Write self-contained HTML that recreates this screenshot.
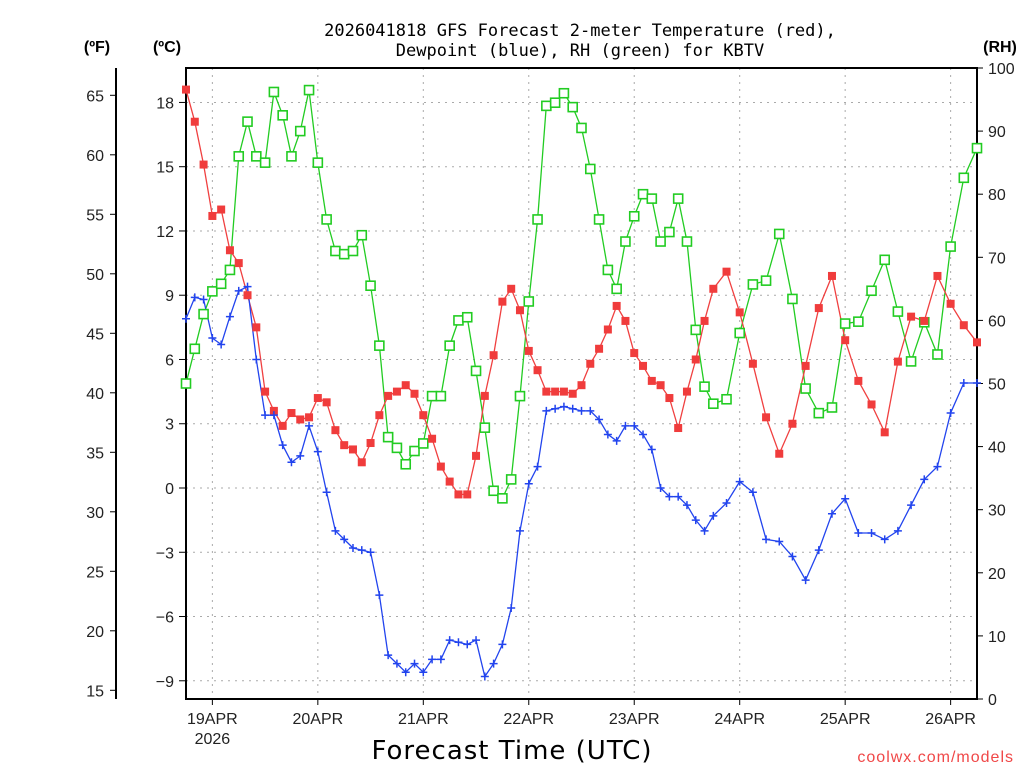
<!DOCTYPE html>
<html><head><meta charset="utf-8"><style>
body{margin:0;background:#fff;width:1024px;height:768px;overflow:hidden}
svg{display:block;font-family:"Liberation Sans",sans-serif}
</style></head><body>
<svg id="chart" width="1024" height="768" viewBox="0 0 1024 768">
<g id="grid"></g>
<g id="axes"></g>
<g id="series"></g>
<text x="580" y="36" font-size="17" text-anchor="middle" font-family="DejaVu Sans Mono, monospace">2026041818 GFS Forecast 2-meter Temperature (red),</text>
<text x="580" y="56" font-size="17" text-anchor="middle" font-family="DejaVu Sans Mono, monospace">Dewpoint (blue), RH (green) for KBTV</text>
<text x="97" y="52" font-size="16" font-weight="bold" text-anchor="middle">(ºF)</text>
<text x="167" y="52" font-size="16" font-weight="bold" text-anchor="middle">(ºC)</text>
<text x="1000" y="52" font-size="16" font-weight="bold" text-anchor="middle">(RH)</text>
<text x="512" y="759" font-size="26" text-anchor="middle" font-family="DejaVu Sans, sans-serif" letter-spacing="1">Forecast Time (UTC)</text>
<text x="1014" y="762" font-size="16" fill="#f04848" text-anchor="end" letter-spacing="1">coolwx.com/models</text>
</svg>
<script>
const hours=[0,2,4,6,8,10,12,14,16,18,20,22,24,26,28,30,32,34,36,38,40,42,44,46,48,50,52,54,56,58,60,62,64,66,68,70,72,74,76,78,80,82,84,86,88,90,92,94,96,98,100,102,104,106,108,110,112,114,116,118,120,123,126,129,132,135,138,141,144,147,150,153,156,159,162,165,168,171,174,177,180];
const tempC=[18.6,17.1,15.1,12.7,13.0,11.1,10.5,9.0,7.5,4.5,3.6,2.9,3.5,3.2,3.3,4.2,4.0,2.7,2.0,1.8,1.2,2.1,3.4,4.3,4.5,4.8,4.4,3.4,2.3,1.0,0.3,-0.3,-0.3,1.5,4.3,6.2,8.7,9.3,8.3,6.4,5.5,4.5,4.5,4.5,4.4,4.8,5.8,6.5,7.4,8.5,7.8,6.3,5.7,5.0,4.8,4.2,2.8,4.5,6.0,7.8,9.3,10.1,8.2,5.8,3.3,1.6,3.0,5.7,8.4,9.9,6.9,5.0,3.9,2.6,5.9,8.0,7.8,9.9,8.6,7.6,6.8];
const dewC=[7.9,8.9,8.8,7.0,6.7,8.0,9.2,9.4,6.0,3.4,3.4,2.0,1.2,1.5,2.9,1.7,-0.2,-2.0,-2.4,-2.8,-2.9,-3.0,-5.0,-7.8,-8.2,-8.6,-8.2,-8.6,-8.0,-8.0,-7.1,-7.2,-7.3,-7.1,-8.8,-8.2,-7.3,-5.6,-2.0,0.2,1.0,3.6,3.7,3.8,3.7,3.6,3.6,3.2,2.5,2.2,2.9,2.9,2.5,1.8,0.0,-0.4,-0.4,-0.8,-1.5,-2.0,-1.3,-0.7,0.3,-0.2,-2.4,-2.5,-3.2,-4.3,-2.9,-1.2,-0.5,-2.1,-2.1,-2.4,-2.0,-0.8,0.4,1.0,3.5,4.9,4.9];
const rh=[50,55.5,61,64.6,65.8,68,86,91.5,86,85,96.2,92.5,86,90,96.5,85,76,71,70.5,71,73.5,65.5,56,41.5,39.8,37.2,39.3,40.5,48,48,56,60,60.5,52,43,33,31.8,34.8,48,63,76,94,94.5,96,93.8,90.5,84,76,68,65,72.5,76.5,80,79.3,72.5,74,79.3,72.5,58.5,49.5,46.8,47.5,58,65.7,66.3,73.7,63.4,49.2,45.3,46.2,59.5,59.8,64.7,69.6,61.4,53.5,59.7,54.6,71.7,82.6,87.3];
const cTicks=[-9,-6,-3,0,3,6,9,12,15,18];
const fTicks=[15,20,25,30,35,40,45,50,55,60,65];
const rhTicks=[0,10,20,30,40,50,60,70,80,90,100];
const dayLabels=["19APR","20APR","21APR","22APR","23APR","24APR","25APR","26APR"];
const dayHours=[6,30,54,78,102,126,150,174];

const NS="http://www.w3.org/2000/svg";
const L=186,R=977,T=68,B=699;
const xS=h=>L+(h/180)*(R-L);
const yC=c=>488-c*21.42;
const yF=f=>yC((f-32)*5/9);
const yRH=v=>B-v*(B-T)/100;
function mk(tag,attrs,parent){const e=document.createElementNS(NS,tag);for(const k in attrs)e.setAttribute(k,attrs[k]);parent.appendChild(e);return e;}
const grid=document.getElementById('grid'),axes=document.getElementById('axes'),series=document.getElementById('series');

cTicks.forEach(c=>{
  const g=mk('line',{x1:L,x2:R,y1:yC(c),y2:yC(c),stroke:'#aaa','stroke-dasharray':'2 5'},grid);
  
  
  const t=mk('line',{x1:L-7,x2:L,y1:yC(c),y2:yC(c),stroke:'#000'},axes);
  
  
  const tx=mk('text',{x:174,y:yC(c)+6,'font-size':16,'text-anchor':'end',fill:'#222'},axes);
  tx.textContent=(c<0?'\u2212'+(-c):c);
  
  
});
dayHours.forEach((h,i)=>{
  const g=mk('line',{x1:xS(h),x2:xS(h),y1:T,y2:B,stroke:'#aaa','stroke-dasharray':'2 5'},grid);
  
  
  const t=mk('line',{x1:xS(h),x2:xS(h),y1:B,y2:B+6,stroke:'#000'},axes);
  
  
  const tx=mk('text',{x:xS(h),y:724,'font-size':16,'text-anchor':'middle',fill:'#222'},axes);
  tx.textContent=dayLabels[i];
  
  
});
const yr=mk('text',{x:xS(dayHours[0]),y:744,'font-size':16,'text-anchor':'middle',fill:'#222'},axes);
yr.textContent='2026';


const fAxis=mk('line',{x1:116,x2:116,y1:T,y2:B,stroke:'#000','stroke-width':2},axes);


fTicks.forEach(f=>{
  const t=mk('line',{x1:110,x2:116,y1:yF(f),y2:yF(f),stroke:'#000'},axes);
  
  
  const tx=mk('text',{x:104,y:yF(f)+6,'font-size':16,'text-anchor':'end',fill:'#222'},axes);
  tx.textContent=f;
  
  
});
rhTicks.forEach(v=>{
  const t=mk('line',{x1:R,x2:R+6,y1:yRH(v),y2:yRH(v),stroke:'#000'},axes);
  
  
  const tx=mk('text',{x:988,y:yRH(v)+6,'font-size':16,fill:'#222'},axes);
  tx.textContent=v;
  
  
});
const frame=mk('rect',{x:L,y:T,width:R-L,height:B-T,fill:'none',stroke:'#000','stroke-width':2},axes);



function line(vals,yf,color,name){
  const p=hours.map((h,i)=>xS(h).toFixed(1)+','+yf(vals[i]).toFixed(1)).join(' ');
  const pl=mk('polyline',{points:p,fill:'none',stroke:color,'stroke-width':1.3},series);
  
  
}
line(rh,yRH,'#22cc22','rh');
line(tempC,yC,'#f04040','temperature');
line(dewC,yC,'#2244ee','dewpoint');
hours.forEach((h,i)=>{
  const x=xS(h),y=yRH(rh[i]);
  const m=mk('rect',{x:x-4.5,y:y-4.5,width:9,height:9,fill:'#fff',stroke:'#22cc22','stroke-width':1.6},series);
  
  
});
hours.forEach((h,i)=>{
  const x=xS(h),y=yC(tempC[i]);
  const m=mk('rect',{x:x-4,y:y-4,width:8,height:8,fill:'#f03c3c'},series);
  
  
});
hours.forEach((h,i)=>{
  const x=xS(h),y=yC(dewC[i]);
  const m=mk('path',{d:`M${x-4},${y}H${x+4}M${x},${y-4}V${y+4}`,stroke:'#2244ee','stroke-width':1.5},series);
  
  
});
</script>
</body></html>
